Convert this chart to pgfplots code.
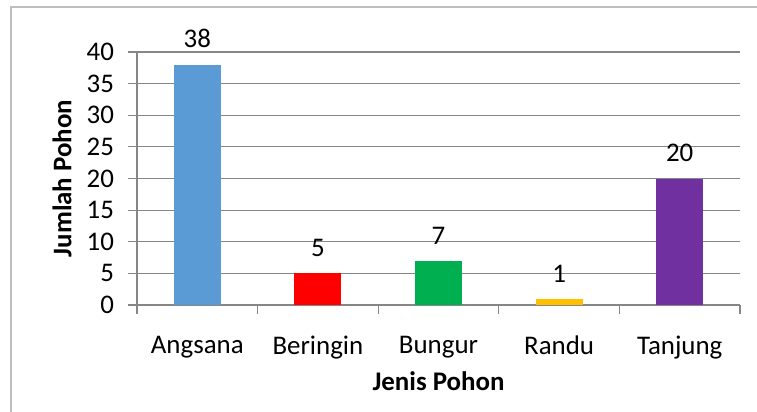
\documentclass[border=0pt]{standalone}
\usepackage{pgfplots}
\pgfplotsset{compat=1.18}
\usepackage{fontspec}
\setmainfont{Carlito}
\definecolor{cA}{HTML}{5B9BD5}
\definecolor{cB}{HTML}{FF0000}
\definecolor{cC}{HTML}{00B050}
\definecolor{cD}{HTML}{FFC000}
\definecolor{cE}{HTML}{7030A0}
\definecolor{gridc}{HTML}{868686}
\definecolor{borderc}{HTML}{BFBFBF}
\begin{document}
\begin{tikzpicture}
\useasboundingbox (-68.5bp,-53.5bp) rectangle (310bp,152.5bp);
\draw[borderc, line width=0.6bp] (-63bp,-60bp) -- (-63bp,149bp) -- (320bp,149bp);
\begin{axis}[
  at={(0,0)}, anchor=south west,
  scale only axis, width=301.5bp, height=126.5bp,
  font=\fontsize{13.5}{16}\selectfont,
  /pgf/number format/assume math mode=true,
  xmin=-0.5, xmax=4.5, ymin=0, ymax=40,
  ytick={0,5,...,40},
  xtick={0,1,2,3,4},
  xticklabels={Angsana,Beringin,Bungur,Randu,Tanjung},
  minor xtick={-0.5,0.5,1.5,2.5,3.5,4.5},
  axis x line*=bottom, axis y line*=left,
  axis line style={gridc, line width=0.6bp, -},
  ymajorgrids, grid style={gridc, line width=0.6bp},
  tick style={gridc, line width=0.6bp},
  major tick length=4.5bp, minor tick length=4.5bp,
  tick align=outside,
  x tick style={draw=none}, minor x tick style={draw=gridc},
  yticklabel style={xshift=-3.5bp},
  xticklabel style={yshift=-7.5bp},
  ylabel={\textbf{Jumlah Pohon}},
  xlabel={\textbf{Jenis Pohon}},
  ylabel style={at={(axis description cs:-0.1244,0.5)}, anchor=center, rotate=0},
  xlabel style={at={(axis description cs:0.5,-0.300)}, anchor=center},
  ybar, bar width=23.5bp, bar shift=0pt,
  nodes near coords,
  every node near coord/.append style={yshift=4.8bp, black, font=\fontsize{13.5}{16}\selectfont},
  clip=false,
]
\addplot[fill=cA, draw=none] coordinates {(0,38)};
\addplot[fill=cB, draw=none] coordinates {(1,5)};
\addplot[fill=cC, draw=none] coordinates {(2,7)};
\addplot[fill=cD, draw=none] coordinates {(3,1)};
\addplot[fill=cE, draw=none] coordinates {(4,20)};
\end{axis}
\end{tikzpicture}
\end{document}
